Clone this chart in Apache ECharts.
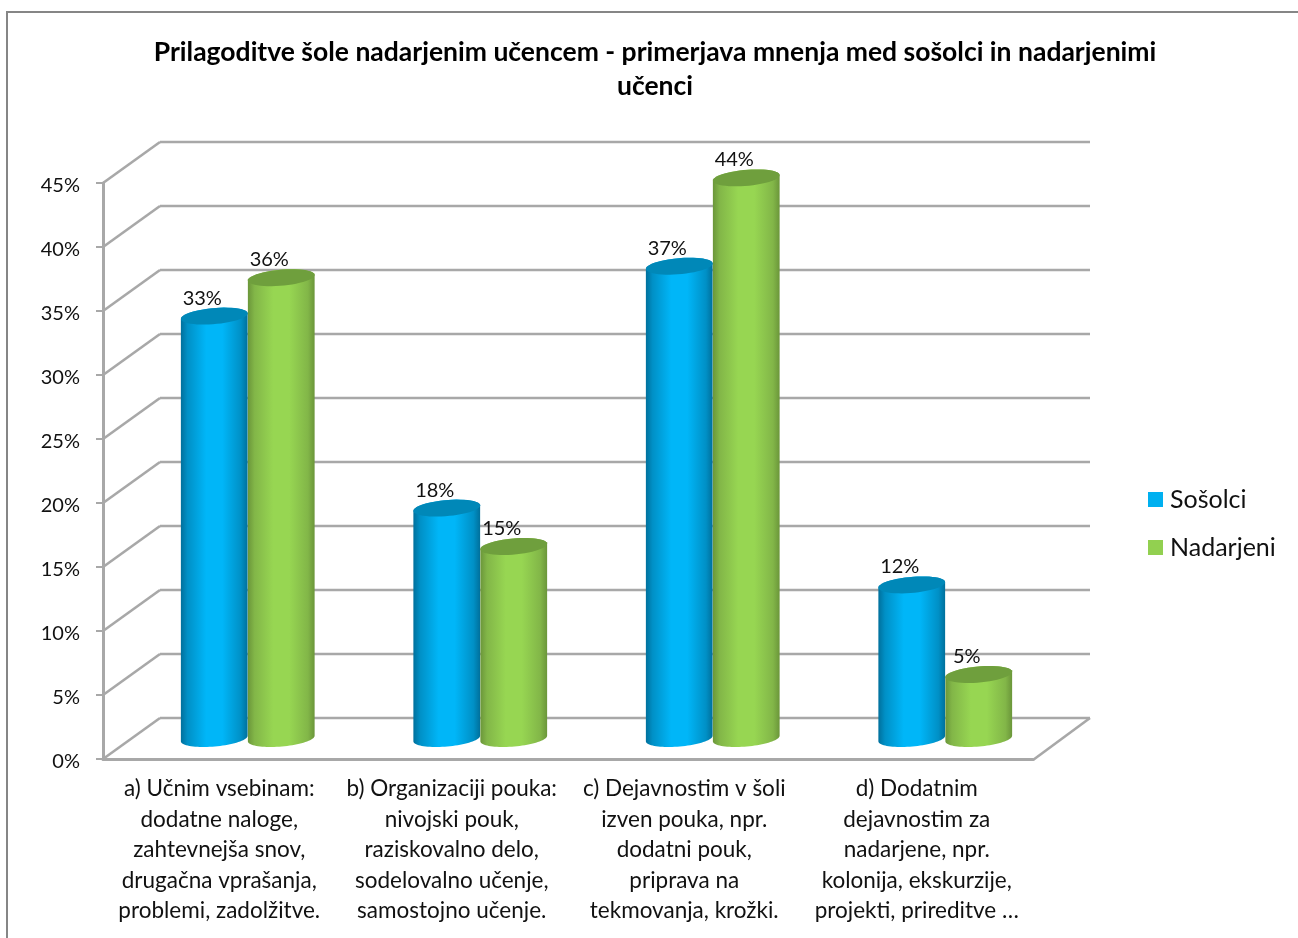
<!DOCTYPE html>
<html><head><meta charset="utf-8">
<style>html,body{margin:0;padding:0;background:#fff}#c{width:1298px;height:938px}</style>
<script src="https://cdn.jsdelivr.net/npm/echarts@6/dist/echarts.min.js"></script>
</head><body><div id="c"></div>
<script>
const categories = [
  'a) Učnim vsebinam:\ndodatne naloge,\nzahtevnejša snov,\ndrugačna vprašanja,\nproblemi, zadolžitve.',
  'b) Organizaciji pouka:\nnivojski pouk,\nraziskovalno delo,\nsodelovalno učenje,\nsamostojno učenje.',
  'c) Dejavnostim v šoli\nizven pouka, npr.\ndodatni pouk,\npriprava na\ntekmovanja, krožki.',
  'd) Dodatnim\ndejavnostim za\nnadarjene, npr.\nkolonija, ekskurzije,\nprojekti, prireditve …'
];
const sosolci = [33, 18, 36.9, 12];
const nadarjeni = [36, 15, 43.8, 5];
const yTicks = [0, 5, 10, 15, 20, 25, 30, 35, 40, 45];
const titleText = 'Prilagoditve šole nadarjenim učencem - primerjava mnenja med sošolci in nadarjenimi\nučenci';

const FONT = 'Lato';
const DX = 57, DY = -41;
const GRID = '#a8a8a8';

function ellipsePts(cx, cy, rx, ry, t0, t1, n) {
  const a = -5 * Math.PI / 180, pts = [];
  for (let i = 0; i <= n; i++) {
    const t = t0 + (t1 - t0) * i / n;
    const x = rx * Math.cos(t), y = ry * Math.sin(t);
    pts.push([cx + x * Math.cos(a) - y * Math.sin(a), cy + x * Math.sin(a) + y * Math.cos(a)]);
  }
  return pts;
}
function grad(stops) {
  return new echarts.graphic.LinearGradient(0, 0, 1, 0, stops.map(s => ({offset: s[0], color: s[1]})));
}
function cylinder(side, stops, topColor) {
  return function (params, api) {
    const idx = api.value(0), val = api.value(1);
    const top = api.coord([idx, val]), base = api.coord([idx, 0]);
    const cx = top[0] + DX / 2 + side * 33.5;
    const ty = top[1] + DY / 2, by = base[1] + DY / 2;
    const rx = 33.5, ry = 8;
    const bottom = ellipsePts(cx, by, rx, ry, 0, Math.PI, 40);
    const upper = ellipsePts(cx, ty, rx, ry, Math.PI, 2 * Math.PI, 20);
    const body = upper.concat(bottom);
    return {
      type: 'group',
      children: [
        {type: 'polygon', shape: {points: body}, style: {fill: grad(stops)}},
        {type: 'polygon', shape: {points: ellipsePts(cx, ty, rx, ry, 0, 2 * Math.PI, 50)}, style: {fill: topColor}},
        {type: 'text', x: cx - 12, y: ty - 18, z2: 100,
         style: {text: Math.round(val) + '%', fill: '#111', font: '20px ' + FONT, textAlign: 'center', textVerticalAlign: 'middle'}}
      ]
    };
  };
}
const blueStops = [[0, '#00709c'], [0.1, '#0090c6'], [0.38, '#00b6f8'], [0.62, '#00b6f8'], [0.9, '#0090c6'], [1, '#00709c']];
const greenStops = [[0, '#6b963a'], [0.1, '#82b648'], [0.38, '#97d652'], [0.62, '#97d652'], [0.9, '#82b648'], [1, '#6b963a']];

const option = {
  animation: false,
  backgroundColor: '#fff',
  textStyle: {fontFamily: FONT},
  title: {
    text: titleText, left: 650, top: 30, textAlign: 'center',
    textStyle: {fontFamily: FONT, fontWeight: 'bold', fontSize: 26.5, lineHeight: 34, color: '#000'}
  },
  legend: {
    orient: 'vertical', left: 1148, top: 487, padding: 0, itemWidth: 15, itemHeight: 15, itemGap: 23, icon: 'rect',
    data: ['Sošolci', 'Nadarjeni'],
    textStyle: {fontFamily: FONT, fontSize: 25, lineHeight: 25, color: '#111', padding: [0, 0, 0, 2]}
  },
  grid: {left: 103, top: 183, width: 930, height: 576},
  xAxis: {
    type: 'category', data: categories,
    axisLine: {lineStyle: {color: GRID, width: 3}}, axisTick: {show: false},
    axisLabel: {fontFamily: FONT, fontSize: 22.5, lineHeight: 30.4, color: '#111', margin: 15, interval: 0}
  },
  yAxis: {
    type: 'value', min: 0, max: 45, interval: 5,
    axisLine: {show: true, lineStyle: {color: GRID, width: 3}},
    axisTick: {show: true, length: 7, lineStyle: {color: GRID, width: 2}},
    splitLine: {show: false},
    axisLabel: {fontFamily: FONT, fontSize: 20, color: '#111', margin: 23, verticalAlign: 'top', lineHeight: 5, formatter: '{value}%'}
  },
  graphic: [
    {type: 'line', shape: {x1: 7, y1: 12, x2: 1298, y2: 12}, style: {stroke: '#868686', lineWidth: 2}, silent: true},
    {type: 'line', shape: {x1: 7, y1: 11, x2: 7, y2: 938}, style: {stroke: '#868686', lineWidth: 2}, silent: true}
  ],
  series: [
    {
      type: 'custom', name: 'walls', coordinateSystem: 'cartesian2d', z: 1, silent: true,
      data: yTicks.map(v => [0, v]),
      renderItem(params, api) {
        const v = api.value(1);
        const p0 = api.coord([0, v]);
        const left = params.coordSys.x, right = left + params.coordSys.width;
        const y = p0[1];
        const st = {stroke: GRID, lineWidth: 2.6};
        const children = [
          {type: 'line', shape: {x1: left, y1: y, x2: left + DX, y2: y + DY}, style: st},
          {type: 'line', shape: {x1: left + DX, y1: y + DY, x2: right + DX, y2: y + DY}, style: st}
        ];
        if (v === 0) children.push({type: 'line', shape: {x1: right, y1: y + 1, x2: right + DX, y2: y + DY}, style: st});
        return {type: 'group', children};
      }
    },
    {
      type: 'custom', name: 'Sošolci', coordinateSystem: 'cartesian2d', z: 3,
      itemStyle: {color: '#00b0f0'},
      data: sosolci.map((v, i) => [i, v]),
      encode: {x: 0, y: 1},
      renderItem: cylinder(-1, blueStops, '#0088b8')
    },
    {
      type: 'custom', name: 'Nadarjeni', coordinateSystem: 'cartesian2d', z: 4,
      itemStyle: {color: '#92d050'},
      data: nadarjeni.map((v, i) => [i, v]),
      encode: {x: 0, y: 1},
      renderItem: cylinder(1, greenStops, '#6f9f3d')
    }
  ]
};
const chart = echarts.init(document.getElementById('c'), null, {renderer: 'canvas'});
chart.setOption(option);
</script></body></html>
